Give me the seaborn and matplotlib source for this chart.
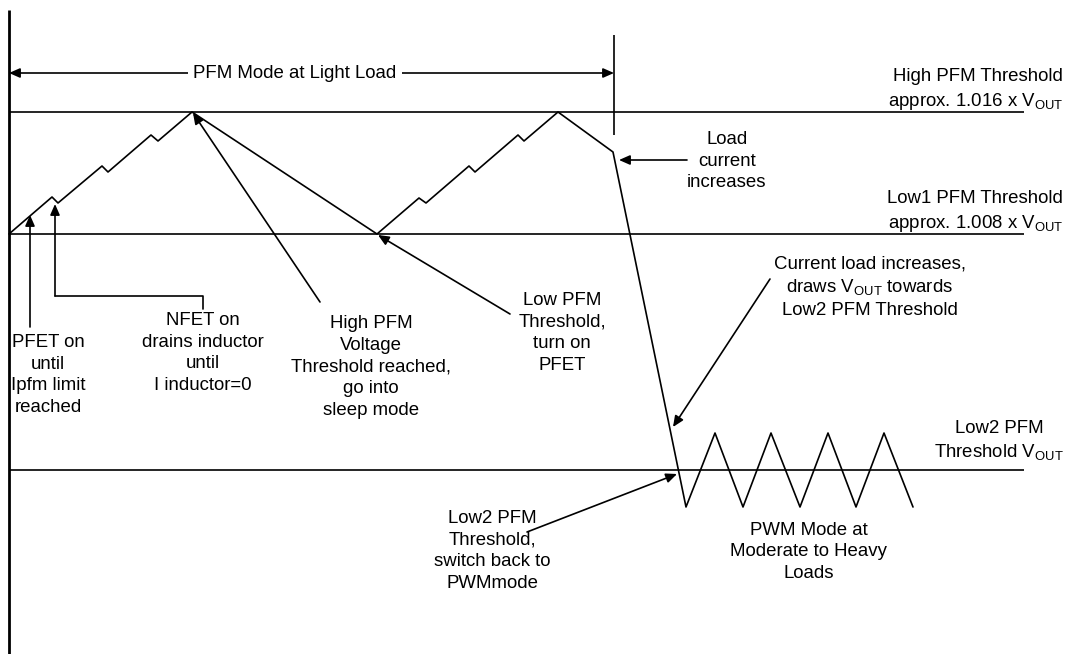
import matplotlib
matplotlib.use("Agg")
import matplotlib.pyplot as plt
import numpy as np
import pandas as pd
import seaborn as sns

# output voltage waveform (pixel units, y grows downward)
wave_x = [9, 52, 58, 102, 108, 151, 158, 192, 377, 419, 426, 469, 475, 518, 524, 558,
          613, 686, 715, 743, 771, 800, 828, 856, 884, 913]
wave_y = [234, 197, 203, 166, 172, 135, 141, 112, 234, 198, 203, 166, 172, 135, 141, 112,
          152, 507, 433, 507, 433, 507, 433, 507, 433, 507]

threshold_names = ["High PFM", "Low1 PFM", "Low2 PFM"]
threshold_y = [112, 234, 470]

VOUT = r"V$_{\mathrm{OUT}}$"

sns.set_theme(style="white")
plt.rcParams["font.family"] = ["Liberation Sans", "DejaVu Sans"]
plt.rcParams["text.color"] = "black"
plt.rcParams["mathtext.fontset"] = "custom"
plt.rcParams["mathtext.rm"] = "Liberation Sans"
plt.rcParams["mathtext.it"] = "Liberation Sans:italic"

FS = 13.4
LW = 1.2
HEAD = "-|>,head_length=0.5,head_width=0.22"

fig = plt.figure(figsize=(10.68, 6.54), dpi=100)
ax = fig.add_axes([0, 0, 1, 1])
ax.set_xlim(0, 1068)
ax.set_ylim(654, 0)
ax.axis("off")

wave = pd.DataFrame({"t": wave_x, "v": wave_y})
sns.lineplot(data=wave, x="t", y="v", sort=False, estimator=None,
             color="black", lw=LW, ax=ax)

ax.hlines(threshold_y, 9, 1024, color="black", lw=LW)
ax.vlines(9, 10, 654, color="black", lw=2)
ax.vlines(614, 35, 135, color="black", lw=LW)


def arrow(tail, head, style=HEAD):
    ax.annotate("", xy=head, xytext=tail,
                arrowprops=dict(arrowstyle=style, lw=LW, color="black",
                                shrinkA=0, shrinkB=0, mutation_scale=13))


def label(x, y, s, ha="center"):
    ax.text(x, y, s, ha=ha, va="center", multialignment=ha,
            fontsize=FS, linespacing=1.35, color="black")


# PFM span
arrow((9, 73), (614, 73), style="<|-|>,head_length=0.5,head_width=0.22")
ax.text(295, 73, "PFM Mode at Light Load", ha="center", va="center", fontsize=FS,
        color="black", bbox=dict(facecolor="white", edgecolor="none", pad=4))

arrow((30, 327), (30, 215))
ax.plot([203, 203, 55], [309, 296, 296], color="black", lw=LW)
arrow((55, 296), (55, 204))
arrow((320, 302), (193, 113))
arrow((510, 314), (378, 235))
arrow((687, 160), (619, 160))
arrow((770, 279), (673, 427))
arrow((527, 532), (677, 474))

label(48, 375, "PFET on\nuntil\nIpfm limit\nreached")
label(203, 353, "NFET on\ndrains inductor\nuntil\nI inductor=0")
label(371, 367, "High PFM\nVoltage\nThreshold reached,\ngo into\nsleep mode")
label(562, 333, "Low PFM\nThreshold,\nturn on\nPFET")
label(727, 161, "Load\ncurrent\nincreases")
label(870, 287, "Current load increases,\ndraws " + VOUT + " towards\nLow2 PFM Threshold")
label(492, 551, "Low2 PFM\nThreshold,\nswitch back to\nPWMmode")
label(809, 552, "PWM Mode at\nModerate to Heavy\nLoads")

label(1063, 90, "High PFM Threshold\napprox. 1.016 x " + VOUT, ha="right")
label(1063, 212, "Low1 PFM Threshold\napprox. 1.008 x " + VOUT, ha="right")
label(999, 441, "Low2 PFM\nThreshold " + VOUT)

fig.savefig("out.png", dpi=100)
plt.close(fig)
